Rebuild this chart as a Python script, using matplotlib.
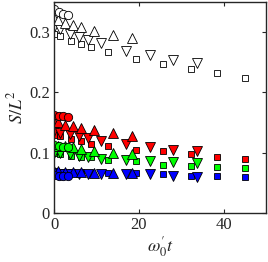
import matplotlib
matplotlib.use("Agg")
import matplotlib.pyplot as plt

plt.rcParams['font.family'] = ['Liberation Serif', 'DejaVu Serif']
plt.rcParams['mathtext.fontset'] = 'stix'

# time values per marker type
t_circ = [0, 1.1, 2.2, 3.3]
t_up = [0, 0.9, 2.5, 4.5, 6.3, 9.3, 13.8, 18.4]
t_down = [0, 1.3, 3.7, 6.0, 8.0, 11.0, 16.9, 22.6, 28.1, 33.7]
t_sq = [0, 1.3, 3.9, 6.4, 8.8, 12.6, 19.3, 25.7, 32.2, 38.4, 44.9]

# open (white) series
open_circ = [0.337, 0.333, 0.330, 0.328]
open_up = [0.323, 0.319, 0.315, 0.311, 0.308, 0.301, 0.295, 0.290]
open_down = [0.308, 0.305, 0.297, 0.292, 0.286, 0.281, 0.268, 0.262, 0.254, 0.248]
open_sq = [0.296, 0.293, 0.285, 0.279, 0.274, 0.266, 0.255, 0.246, 0.238, 0.231, 0.224]

# red series
red_circ = [0.163, 0.161, 0.160, 0.159]
red_up = [0.151, 0.150, 0.146, 0.144, 0.141, 0.137, 0.132, 0.128]
red_down = [0.135, 0.133, 0.131, 0.128, 0.124, 0.119, 0.115, 0.109, 0.105, 0.102]
red_sq = [0.129, 0.127, 0.122, 0.120, 0.115, 0.111, 0.104, 0.102, 0.098, 0.093, 0.090]

# green series
green_circ = [0.112, 0.111, 0.110, 0.110]
green_up = [0.111, 0.111, 0.111, 0.109, 0.106, 0.103, 0.100, 0.098]
green_down = [0.100, 0.099, 0.097, 0.095, 0.092, 0.090, 0.087, 0.086, 0.084, 0.083]
green_sq = [0.099, 0.098, 0.095, 0.093, 0.092, 0.088, 0.086, 0.080, 0.078, 0.076, 0.074]

# blue series
blue_circ = [0.063, 0.062, 0.062, 0.062]
blue_up = [0.069, 0.069, 0.068, 0.068, 0.068, 0.067, 0.067, 0.067]
blue_down = [0.066, 0.065, 0.065, 0.065, 0.064, 0.064, 0.064, 0.065, 0.062, 0.060]
blue_sq = [0.068, 0.068, 0.068, 0.067, 0.067, 0.066, 0.066, 0.064, 0.061, 0.061, 0.060]

xticks = [0, 20, 40]
yticks = [0, 0.1, 0.2, 0.3]
yticklabels = ['0', '0.1', '0.2', '0.3']

fig = plt.figure(figsize=(2.68, 2.62), dpi=100)
ax = fig.add_axes([0.2015, 0.187, 0.7925, 0.807])

groups = [
    ('white', open_circ, open_up, open_down, open_sq),
    ('#ff0000', red_circ, red_up, red_down, red_sq),
    ('#00ff00', green_circ, green_up, green_down, green_sq),
    ('#0000ff', blue_circ, blue_up, blue_down, blue_sq),
]
for col, c, u, d, s in groups:
    ax.plot(t_sq, s, ls='none', marker='s', ms=5, mfc=col, mec='k', mew=0.6)
    ax.plot(t_down, d, ls='none', marker='v', ms=6.5, mfc=col, mec='k', mew=0.6)
    ax.plot(t_up, u, ls='none', marker='^', ms=6.5, mfc=col, mec='k', mew=0.6)
    ax.plot(t_circ, c, ls='none', marker='o', ms=6, mfc=col, mec='k', mew=0.6)

ax.set_xlim(0, 50)
ax.set_ylim(0, 0.35)
ax.set_xticks(xticks)
ax.set_yticks(yticks)
ax.set_yticklabels(yticklabels)
ax.tick_params(direction='in', top=True, right=True, length=3, width=0.8,
               labelsize=12, colors='#262626', labelcolor='#262626', pad=3)
for sp in ax.spines.values():
    sp.set_linewidth(1.0)
    sp.set_color('#262626')
ax.set_xlabel(r"$\omega_0' t$", fontsize=13, color='#262626', labelpad=1)
ax.set_ylabel(r"$S/L^2$", fontsize=13, color='#262626', labelpad=2)

fig.savefig('out.png', dpi=100)
